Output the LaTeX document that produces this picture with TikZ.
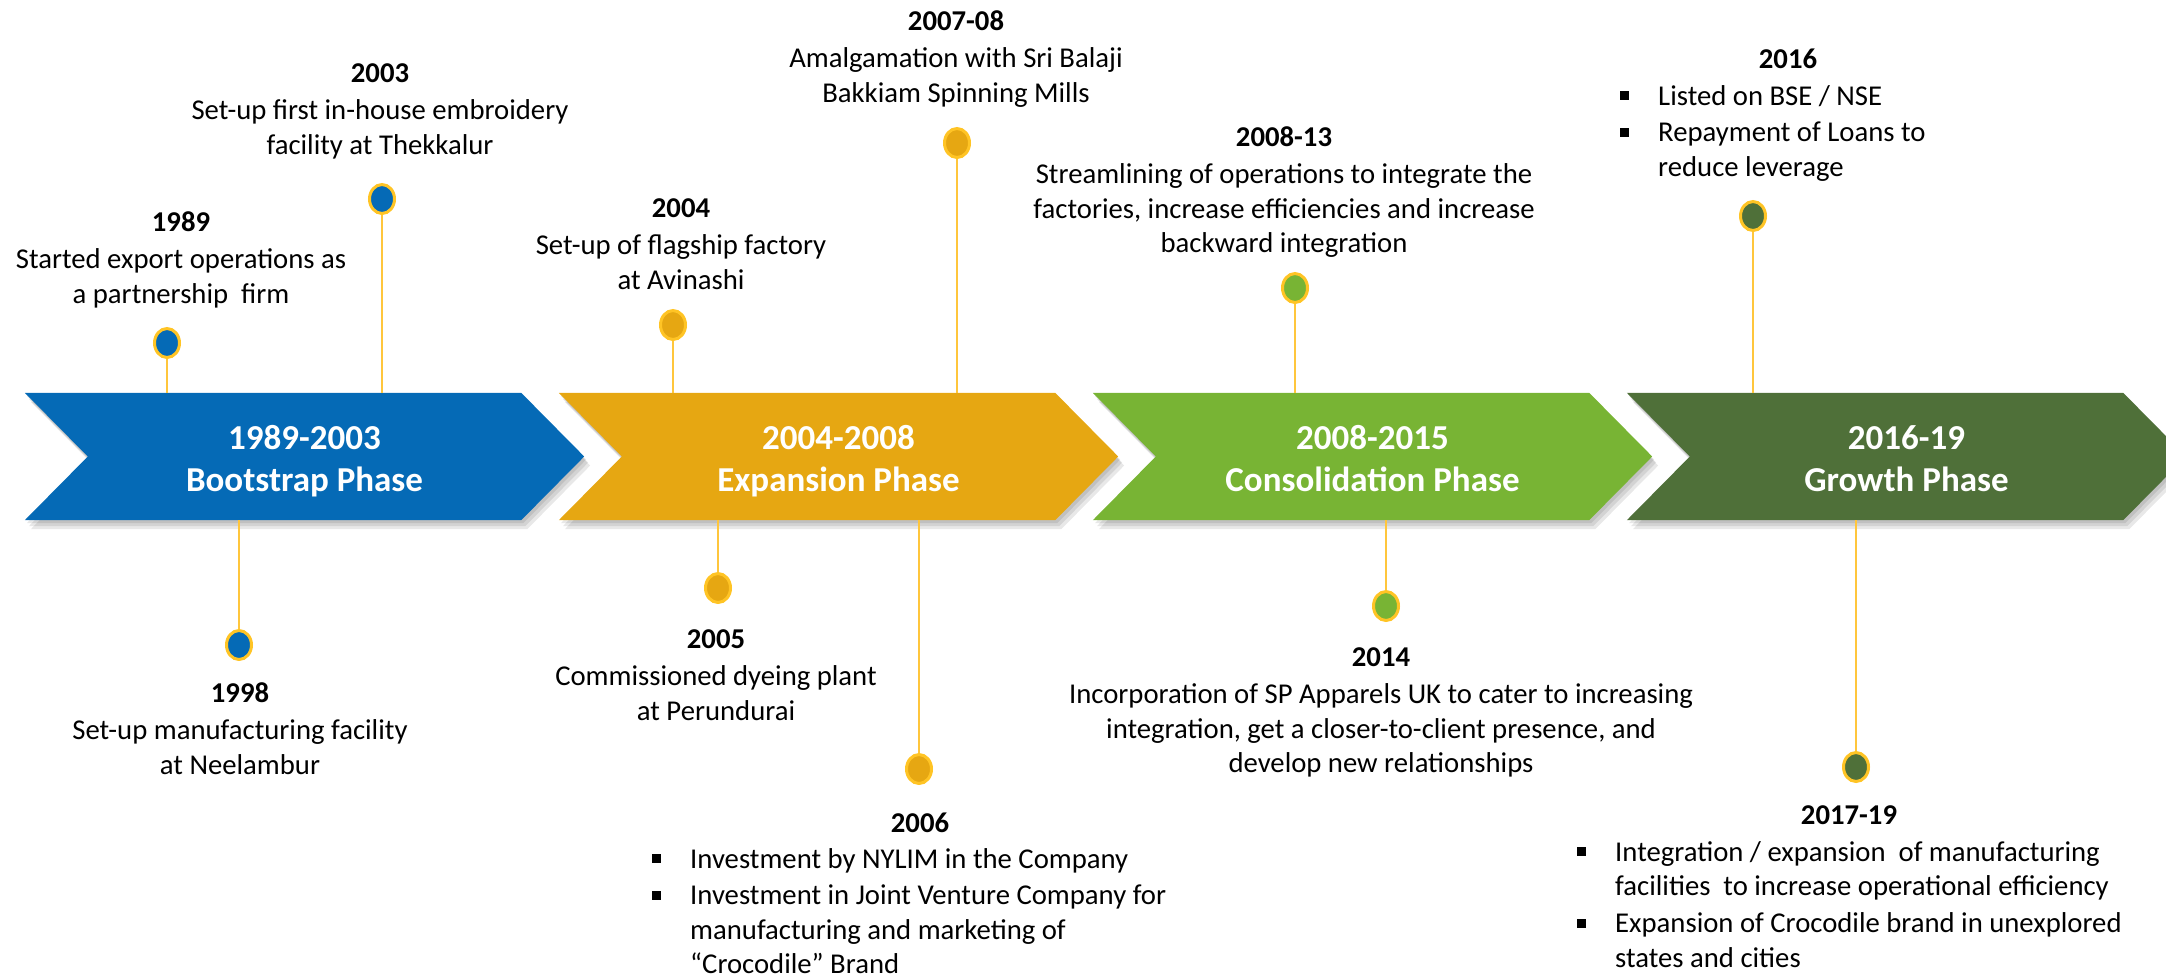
\documentclass[tikz,border=0pt]{standalone}
\usepackage{fontspec}
\setmainfont{Carlito}
\usetikzlibrary{shapes.geometric}
\definecolor{cblue}{RGB}{5,106,182}
\definecolor{cgold}{RGB}{230,167,18}
\definecolor{cgreen}{RGB}{120,180,52}
\definecolor{cdark}{RGB}{79,112,57}
\definecolor{cring}{RGB}{255,196,37}
\definecolor{cstem}{RGB}{255,198,60}
\newcommand\evsize{\fontsize{28.7}{34.5}\selectfont}
\newcommand\bul{\makebox[38pt][l]{\raisebox{5pt}{\rule{9pt}{9pt}}}}
\newcommand\ind{\hspace*{38pt}}
\tikzset{
  chevbox/.style={rectangle, inner sep=0pt, minimum width=559pt, minimum height=127pt},
  chevron/.style={insert path={(#1.north west) -- ([xshift=-63pt]#1.north east) -- (#1.east) -- ([xshift=-63pt]#1.south east) -- (#1.south west) -- ([xshift=63pt]#1.west) -- cycle}},
  plabel/.style={inner sep=0pt, anchor=base, text=white, font=\fontsize{35}{42}\selectfont\bfseries},
  event/.style={inner sep=0pt, anchor=base, font=\evsize},
  listbox/.style={inner sep=0pt, anchor=base west, font=\evsize},
  dot/.style={ellipse, inner sep=0pt, minimum width=25pt, minimum height=29pt, draw=cring, line width=3pt, fill=#1},
  stem/.style={draw=cstem, line width=1.6pt},
  shadowA/.style={fill=black, opacity=0.09}
}
\begin{document}
\begin{tikzpicture}[x=1pt,y=-1pt]
\path[use as bounding box] (0,0) rectangle (2166,978);
\begin{scope}
\clip (0,0) rectangle (2166,978);
% chevron frames
\node[chevbox] (c1) at (304.5,456.5) {};
\node[chevbox] (c2) at (838.5,456.5) {};
\node[chevbox] (c3) at (1372.5,456.5) {};
\node[chevbox] (c4) at (1906.5,456.5) {};
% shadows
\foreach \c in {c1,c2,c3,c4}{
  \fill[shadowA, transform canvas={shift={(2pt,-3pt)}}, chevron=\c];
  \fill[shadowA, transform canvas={shift={(4pt,-6pt)}}, chevron=\c];
  \fill[shadowA, transform canvas={shift={(6pt,-9pt)}}, chevron=\c];
}
% chevrons
\fill[cblue, chevron=c1];
\fill[cgold, chevron=c2];
\fill[cgreen, chevron=c3];
\fill[cdark, chevron=c4];
\end{scope}
% phase labels
\node[plabel] (l1) at ([yshift=7.5pt]c1.center) {\begin{tabular}[t]{@{}c@{}}1989-2003\\Bootstrap Phase\end{tabular}};
\node[plabel] (l2) at ([yshift=7.5pt]c2.center) {\begin{tabular}[t]{@{}c@{}}2004-2008\\Expansion Phase\end{tabular}};
\node[plabel] (l3) at ([yshift=7.5pt]c3.center) {\begin{tabular}[t]{@{}c@{}}2008-2015\\Consolidation Phase\end{tabular}};
\node[plabel] (l4) at ([yshift=7.5pt]c4.center) {\begin{tabular}[t]{@{}c@{}}2016-19\\Growth Phase\end{tabular}};
% dots
\node[dot=cblue] (d1989) at (167,343) {};
\node[dot=cblue] (d2003) at (382,199) {};
\node[dot=cblue] (d1998) at (239,645) {};
\node[dot=cgold] (d2004) at (673,325) {};
\node[dot=cgold] (d2007) at (957,143) {};
\node[dot=cgold] (d2005) at (718,588) {};
\node[dot=cgold] (d2006) at (919,769) {};
\node[dot=cgreen] (d2008) at (1295,288) {};
\node[dot=cgreen] (d2014) at (1386,606) {};
\node[dot=cdark] (d2016) at (1753,216) {};
\node[dot=cdark] (d2017) at (1856,767) {};
% stems
\draw[stem] (d1989) -- (d1989 |- c1.north);
\draw[stem] (d2003) -- (d2003 |- c1.north);
\draw[stem] (d1998) -- (d1998 |- c1.south);
\draw[stem] (d2004) -- (d2004 |- c2.north);
\draw[stem] (d2007) -- (d2007 |- c2.north);
\draw[stem] (d2005) -- (d2005 |- c2.south);
\draw[stem] (d2006) -- (d2006 |- c2.south);
\draw[stem] (d2008) -- (d2008 |- c3.north);
\draw[stem] (d2014) -- (d2014 |- c3.south);
\draw[stem] (d2016) -- (d2016 |- c4.north);
\draw[stem] (d2017) -- (d2017 |- c4.south);
% event texts
\node[event] (e1989) at (181,231) {\begin{tabular}[t]{@{}c@{}}\textbf{1989}\\[3pt]Started export operations as\\a partnership\ \ firm\end{tabular}};
\node[event] (e2003) at (380,82) {\begin{tabular}[t]{@{}c@{}}\textbf{2003}\\[3pt]Set-up first in-house embroidery\\facility at Thekkalur\end{tabular}};
\node[event] (e1998) at (240,702) {\begin{tabular}[t]{@{}c@{}}\textbf{1998}\\[3pt]Set-up manufacturing facility\\at Neelambur\end{tabular}};
\node[event] (e2004) at (681,217) {\begin{tabular}[t]{@{}c@{}}\textbf{2004}\\[3pt]Set-up of flagship factory\\at Avinashi\end{tabular}};
\node[event] (e2007) at (956,30) {\begin{tabular}[t]{@{}c@{}}\textbf{2007-08}\\[3pt]Amalgamation with Sri Balaji\\Bakkiam Spinning Mills\end{tabular}};
\node[event] (e2005) at (716,648) {\begin{tabular}[t]{@{}c@{}}\textbf{2005}\\[3pt]Commissioned dyeing plant\\at Perundurai\end{tabular}};
\node[event] (e2008) at (1284,146) {\begin{tabular}[t]{@{}c@{}}\textbf{2008-13}\\[3pt]Streamlining of operations to integrate the\\factories, increase efficiencies and increase\\backward integration\end{tabular}};
\node[event] (e2014) at (1381,666) {\begin{tabular}[t]{@{}c@{}}\textbf{2014}\\[3pt]Incorporation of SP Apparels UK to cater to increasing\\integration, get a closer-to-client presence, and\\develop new relationships\end{tabular}};
% list events
\node[event] (h2006) at (920,832) {\textbf{2006}};
\node[listbox] (b2006) at (652,868) {\vtop{\hbox{\bul Investment by NYLIM in the Company}\vskip2pt\hbox{\bul Investment in Joint Venture Company for}\hbox{\ind manufacturing and marketing of}\hbox{\ind “Crocodile” Brand}}};
\node[event] (h2016) at (1788,68) {\textbf{2016}};
\node[listbox] (b2016) at (1620,105) {\begin{tabular}[t]{@{}l@{}}\bul Listed on BSE / NSE\\[2pt]\bul Repayment of Loans to\\\ind reduce leverage\end{tabular}};
\node[event] (h2017) at (1849,824) {\textbf{2017-19}};
\node[listbox] (b2017) at (1577,861) {\begin{tabular}[t]{@{}l@{}}\bul Integration / expansion\ \ of manufacturing\\\ind facilities\ \ to increase operational efficiency\\[2.5pt]\bul Expansion of Crocodile brand in unexplored\\\ind states and cities\end{tabular}};
\end{tikzpicture}
\end{document}
